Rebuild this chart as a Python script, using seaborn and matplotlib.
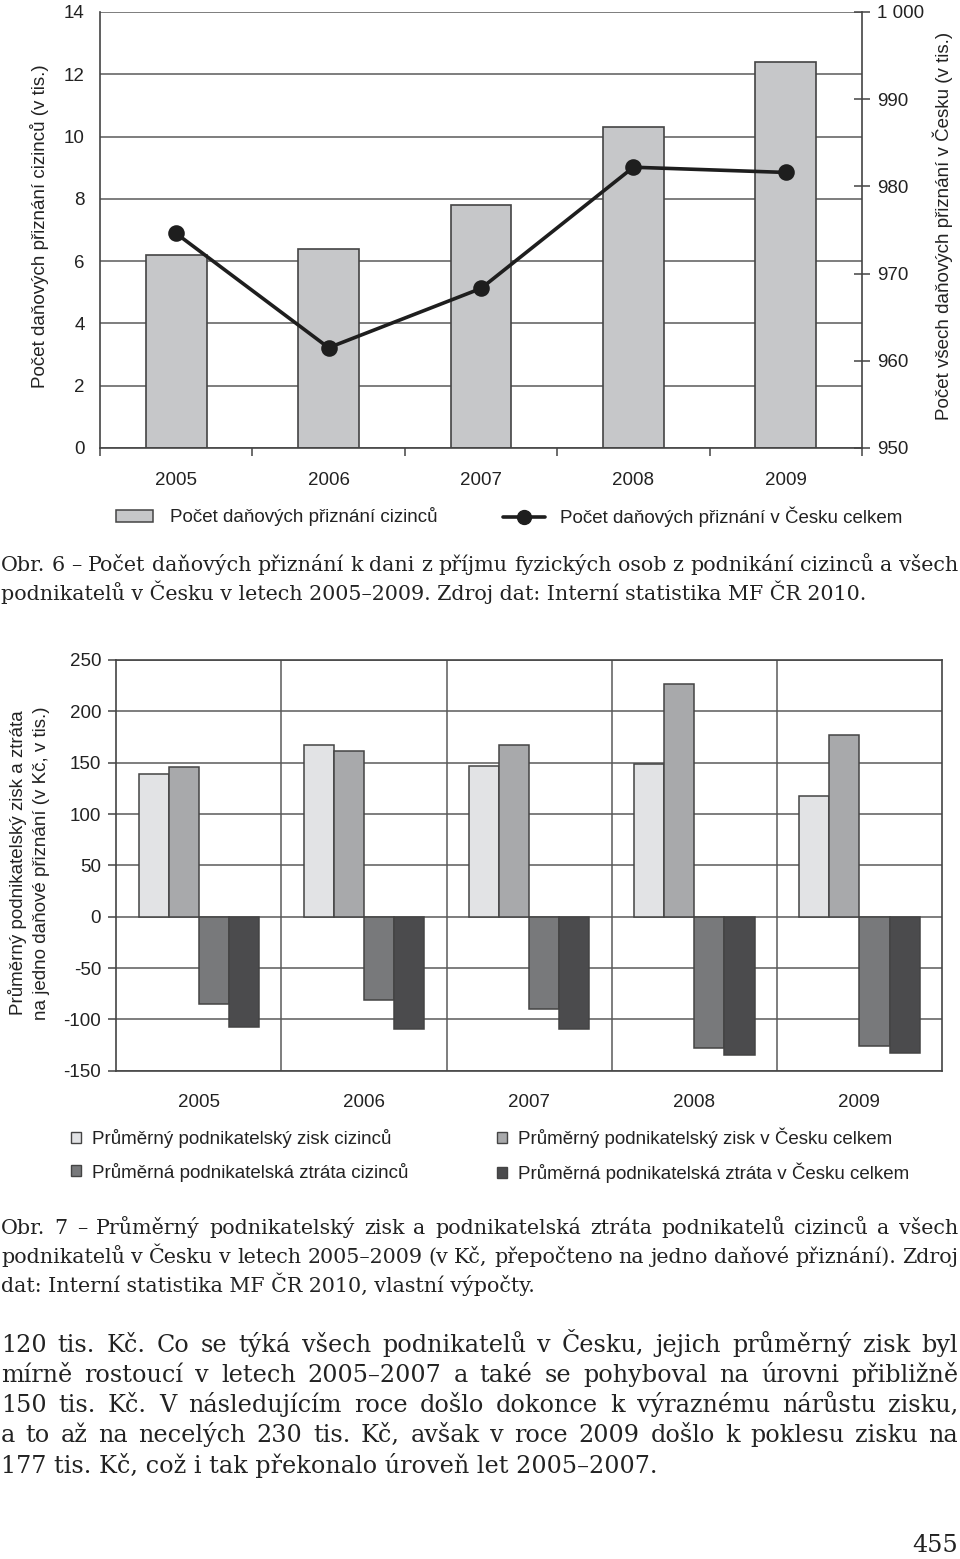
import numpy as np
import pandas as pd
import matplotlib
matplotlib.use('Agg')
import matplotlib.pyplot as plt
from matplotlib.patches import Patch
from matplotlib.lines import Line2D
import seaborn as sns

# data read from the scanned page
roky = ['2005', '2006', '2007', '2008', '2009']

# Obr. 6
priznani_cizinci = [6.2, 6.4, 7.8, 10.3, 12.4]          # tis., left axis
priznani_celkem = [974.6, 961.5, 968.3, 982.2, 981.6]   # tis., right axis
prave_tiky = [950, 960, 970, 980, 990, 1000]
prave_popisky = ['950', '960', '970', '980', '990', '1 000']

# Obr. 7
serie = ['Průměrný podnikatelský zisk cizinců',
         'Průměrný podnikatelský zisk v Česku celkem',
         'Průměrná podnikatelská ztráta cizinců',
         'Průměrná podnikatelská ztráta v Česku celkem']
zisk_cizinci = [139, 167, 147, 149, 118]
zisk_cesko = [146, 161.5, 167, 227, 177]
ztrata_cizinci = [-85.5, -81, -89.5, -128, -125.5]
ztrata_cesko = [-107, -109.5, -109.5, -135, -132.5]

popis1 = ['Obr. 6 – Počet daňových přiznání k dani z příjmu fyzických osob z podnikání cizinců a všech',
          'podnikatelů v Česku v letech 2005–2009. Zdroj dat: Interní statistika MF ČR 2010.']
popis2 = ['Obr. 7 – Průměrný podnikatelský zisk a podnikatelská ztráta podnikatelů cizinců a všech',
          'podnikatelů v Česku v letech 2005–2009 (v Kč, přepočteno na jedno daňové přiznání). Zdroj',
          'dat: Interní statistika MF ČR 2010, vlastní výpočty.']
odstavec = ['120 tis. Kč. Co se týká všech podnikatelů v Česku, jejich průměrný zisk byl',
            'mírně rostoucí v letech 2005–2007 a také se pohyboval na úrovni přibližně',
            '150 tis. Kč. V následujícím roce došlo dokonce k výraznému nárůstu zisku,',
            'a to až na necelých 230 tis. Kč, avšak v roce 2009 došlo k poklesu zisku na',
            '177 tis. Kč, což i tak překonalo úroveň let 2005–2007.']

BAR1 = '#c6c7c9'
BARVY = ['#e2e3e5', '#a8a9ab', '#78797b', '#4b4b4d']
LINE = '#1e1e1e'
EDGE = '#444444'
GRID = '#5a5a5a'
TXT = '#222222'
SANS = 'Liberation Sans'
SERIF = 'DejaVu Serif'
FS = 13.5

sns.set_theme(style='white')
plt.rcParams['font.family'] = [SANS, 'DejaVu Sans']
plt.rcParams['axes.unicode_minus'] = False
plt.rcParams['text.color'] = TXT
plt.rcParams['xtick.color'] = TXT
plt.rcParams['ytick.color'] = TXT

W, H = 960, 1559
fig = plt.figure(figsize=(W / 100, H / 100), dpi=100)


def fx(px):
    return px / W


def fy(py):
    return 1 - py / H


# ---------- Obr. 6 ----------
ax1 = fig.add_axes([fx(100), fy(448), 762 / W, 436 / H])
sns.barplot(x=roky, y=priznani_cizinci, color=BAR1, width=0.4, saturation=1,
            edgecolor=EDGE, linewidth=1.2, ax=ax1)
ax2 = ax1.twinx()
sns.pointplot(x=roky, y=priznani_celkem, color=LINE, markers='o', errorbar=None,
              markersize=10, linewidth=2.6, ax=ax2)

ax1.set_ylim(0, 14)
ax1.set_yticks(range(0, 15, 2))
ax1.grid(axis='y', color=GRID, lw=1.1)
ax1.grid(axis='x', visible=False)
ax1.set_axisbelow(True)
ax1.set_xlim(-0.5, 4.5)
ax1.set_xticks(range(5))
ax1.set_xticklabels(roky)
ax1.set_xticks(np.arange(-0.5, 5, 1), minor=True)
ax1.tick_params(axis='y', length=0, pad=11, labelsize=FS)
ax1.tick_params(axis='x', which='major', length=0, pad=17, labelsize=FS)
ax1.tick_params(axis='x', which='minor', length=6, width=1.1, direction='out', color=EDGE, bottom=True)
ax1.set_xlabel('')
ax1.set_ylabel('')
for s in ['top', 'right']:
    ax1.spines[s].set_visible(False)
for s in ['left', 'bottom']:
    ax1.spines[s].set_color(EDGE)
    ax1.spines[s].set_linewidth(1.2)

ax2.set_ylim(950, 1000)
ax2.set_yticks(prave_tiky)
ax2.set_yticklabels(prave_popisky)
ax2.tick_params(axis='y', direction='inout', length=12, width=1.1, pad=5, labelsize=FS, color=EDGE, right=True)
ax2.set_ylabel('')
ax2.set_xlabel('')
for s in ['top', 'left', 'bottom']:
    ax2.spines[s].set_visible(False)
ax2.spines['right'].set_color(EDGE)
ax2.spines['right'].set_linewidth(1.2)

fig.text(fx(40), fy(226), 'Počet daňových přiznání cizinců (v tis.)', rotation=90,
         ha='center', va='center', fontsize=FS)
fig.text(fx(943), fy(226), 'Počet všech daňových přiznání v Česku (v tis.)', rotation=90,
         ha='center', va='center', fontsize=FS)

fig.legend(handles=[Patch(facecolor=BAR1, edgecolor=EDGE, lw=1.1, label='Počet daňových přiznání cizinců')],
           loc='center left', bbox_to_anchor=(fx(115.7), fy(517)), frameon=False, fontsize=FS,
           borderpad=0, borderaxespad=0, handlelength=2.0, handleheight=0.6, handletextpad=0.9)
fig.legend(handles=[Line2D([], [], color=LINE, lw=2.6, marker='o', markersize=10,
                           label='Počet daňových přiznání v Česku celkem')],
           loc='center left', bbox_to_anchor=(fx(503), fy(517)), frameon=False, fontsize=FS,
           borderpad=0, borderaxespad=0, handlelength=2.25, handletextpad=0.8)

# ---------- Obr. 7 ----------
df = pd.DataFrame({
    'rok': roky * 4,
    'serie': np.repeat(serie, len(roky)),
    'hodnota': zisk_cizinci + zisk_cesko + ztrata_cizinci + ztrata_cesko,
})
ax3 = fig.add_axes([fx(116.3), fy(1070.7), 825.7 / W, 410.7 / H])
sns.barplot(data=df, x='rok', y='hodnota', hue='serie', hue_order=serie, palette=BARVY,
            width=0.73, saturation=1, edgecolor=EDGE, linewidth=1.1, legend=False, ax=ax3)
ax3.set_ylim(-150, 250)
ax3.set_yticks(range(-150, 251, 50))
ax3.set_xlim(-0.5, 4.5)
ax3.set_xticks(range(5))
ax3.set_xticklabels(roky)
ax3.set_xticks(np.arange(0.5, 4, 1), minor=True)
ax3.grid(axis='y', which='major', color=GRID, lw=1.1)
ax3.grid(axis='x', which='major', visible=False)
ax3.grid(axis='x', which='minor', color=GRID, lw=1.1)
ax3.set_axisbelow(True)
ax3.tick_params(axis='y', length=6, width=1.1, direction='out', color=EDGE, pad=5, labelsize=FS, left=True)
ax3.tick_params(axis='x', which='both', length=0, pad=17, labelsize=FS)
ax3.set_xlabel('')
ax3.set_ylabel('')
for s in ax3.spines.values():
    s.set_visible(True)
    s.set_color(EDGE)
    s.set_linewidth(1.2)

fig.text(fx(29), fy(863), 'Průměrný podnikatelský zisk a ztráta\nna jedno daňové přiznání (v Kč, v tis.)',
         rotation=90, ha='center', va='center', fontsize=FS, linespacing=1.5, multialignment='center')

for i, sl in enumerate([(0, 2), (1, 3)]):
    fig.legend(handles=[Patch(facecolor=BARVY[j], edgecolor=EDGE, lw=1.0, label=serie[j]) for j in sl],
               loc='center left', bbox_to_anchor=(fx([70.7, 496.7][i]), fy(1155.5)), frameon=False,
               fontsize=FS, borderpad=0, borderaxespad=0, handlelength=0.54, handleheight=0.54,
               handletextpad=0.62, labelspacing=0.75)

# ---------- text of the page ----------
rnd = fig.canvas.get_renderer()


def radek(text, y, zarovnat=True, x0=1, x1=958, size=14.85):
    if not zarovnat:
        fig.text(fx(x0), fy(y + 6), text, fontsize=size, family=SERIF, va='baseline', color=TXT)
        return
    slova = text.split(' ')
    objs = [fig.text(0, fy(y + 6), w, fontsize=size, family=SERIF, va='baseline', color=TXT) for w in slova]
    sirky = [t.get_window_extent(rnd).width for t in objs]
    mezera = (x1 - x0 - sum(sirky)) / (len(slova) - 1)
    x = x0
    for t, s in zip(objs, sirky):
        t.set_x(fx(x))
        x += s + mezera


for i, (t, y) in enumerate(zip(popis1, [565, 594])):
    radek(t, y, zarovnat=i < len(popis1) - 1)
for i, (t, y) in enumerate(zip(popis2, [1228, 1257, 1286])):
    radek(t, y, zarovnat=i < len(popis2) - 1)
for i, (t, y) in enumerate(zip(odstavec, [1346, 1376, 1406, 1436, 1467])):
    radek(t, y, zarovnat=i < len(odstavec) - 1, size=17.2)
fig.text(fx(958), fy(1552), '455', fontsize=17.2, family=SERIF, ha='right', va='baseline', color=TXT)

fig.savefig('out.png', dpi=100)
